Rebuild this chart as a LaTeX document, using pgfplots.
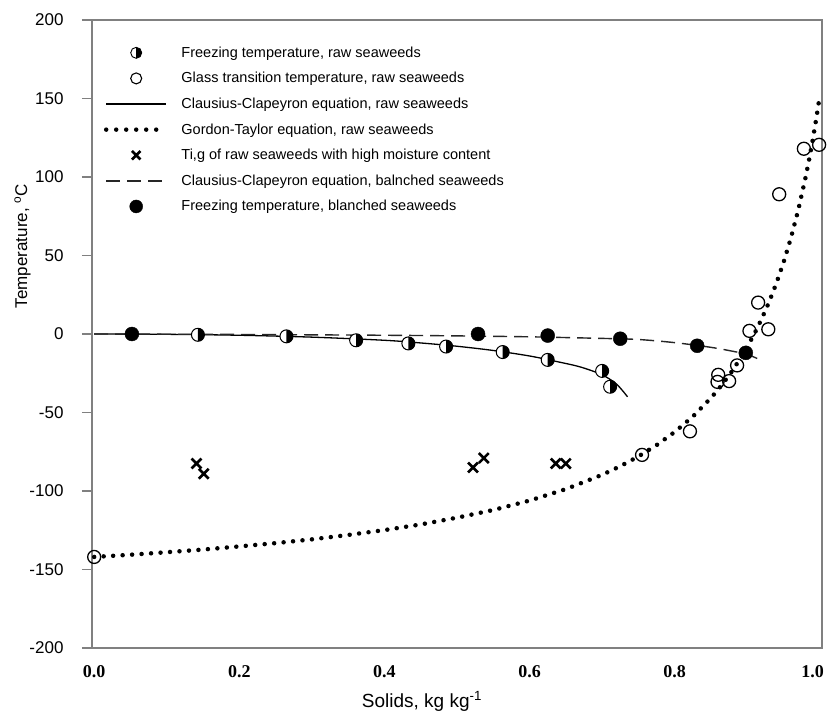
\documentclass[border=0pt]{standalone}
\usepackage{fontspec}
\setmainfont{Liberation Sans}
\newfontfamily\timesf{Liberation Serif}
\usepackage{pgfplots}
\pgfplotsset{compat=1.18}

% circle with the right half filled
\pgfdeclareplotmark{halfcirc}{%
  \pgfpathcircle{\pgfpointorigin}{\pgfplotmarksize}%
  \pgfsetfillcolor{white}\pgfusepathqfillstroke
  \pgfpathmoveto{\pgfqpoint{0pt}{\pgfplotmarksize}}%
  \pgfpatharc{90}{-90}{\pgfplotmarksize}%
  \pgfpathclose
  \pgfsetfillcolor{black}\pgfusepathqfill}

\begin{document}
\begin{tikzpicture}
\path[use as bounding box] (-92pt,-67pt) rectangle (737pt,648pt);
\begin{axis}[
    at={(0,0)}, anchor=south west,
    scale only axis, width=730pt, height=628pt,
    xmin=-0.003, xmax=1.003, ymin=-200, ymax=200,
    axis line style={black!50, line width=1.6pt},
    xtick={0,0.2,0.4,0.6,0.8,1},
    xticklabels={0.0,0.2,0.4,0.6,0.8,\hbox to 0pt{\hss 1.0\hskip-4pt}},
    ytick={-200,-150,...,200},
    ytick pos=left, xtick pos=bottom,
    tick align=outside, major tick length=10pt,
    xtick style={draw=none},
    ytick style={black!50, line width=1.2pt},
    x tick label style={font=\timesf\bfseries\fontsize{18}{20}\selectfont, yshift=-4pt},
    y tick label style={font=\fontsize{17}{20}\selectfont, xshift=-15pt},
    /pgf/number format/assume math mode=true,
    xlabel={Solids, kg kg\textsuperscript{-1}},
    ylabel={Temperature, \textsuperscript{o}C},
    xlabel style={font=\fontsize{19}{22}\selectfont, at={(axis description cs:0.452,-0.085)}, anchor=center},
    ylabel style={font=\fontsize{17}{20}\selectfont, at={(axis description cs:-0.095,0.64)}, anchor=center},
    legend style={draw=none, fill=none, at={(axis description cs:0.012,0.964)},
        anchor=north west, font=\fontsize{14.5}{17}\selectfont, row sep=9.6pt,
        /tikz/every odd column/.append style={column sep=11pt}},
    legend cell align=left,
    legend image code/.code={\draw[mark repeat=2,mark phase=2,#1]
        plot coordinates {(0pt,0pt) (30pt,0pt) (60pt,0pt)};},
]
% legend entries, in the reference's order
\addlegendimage{only marks, mark=halfcirc, mark size=5.5pt, mark options={line width=0.9pt}}
\addlegendentry{Freezing temperature, raw seaweeds}
\addlegendimage{only marks, mark=o, mark size=5.5pt, mark options={line width=1.1pt}}
\addlegendentry{Glass transition temperature, raw seaweeds}
\addlegendimage{black, line width=1.3pt}
\addlegendentry{Clausius-Clapeyron equation, raw seaweeds}
\addlegendimage{black, line width=4.5pt, line cap=round, dash pattern=on 0pt off 10pt}
\addlegendentry{Gordon-Taylor equation, raw seaweeds}
\addlegendimage{only marks, mark=x, mark size=6pt, mark options={line width=2.6pt}}
\addlegendentry{Ti,g of raw seaweeds with high moisture content}
\addlegendimage{black!85, line width=1.4pt, dash pattern=on 14pt off 7pt}
\addlegendentry{Clausius-Clapeyron equation, balnched seaweeds}
\addlegendimage{only marks, mark=*, mark size=6.5pt}
\addlegendentry{Freezing temperature, blanched seaweeds}

% Gordon-Taylor curve, raw
\addplot[forget plot, black, line width=4.5pt, line cap=round, dash pattern=on 0pt off 9.5pt]
coordinates {(0,-142) (0.05,-140.6) (0.1,-139.0) (0.15,-137.3) (0.2,-135.3) (0.25,-133.2)
 (0.3,-130.8) (0.35,-128.0) (0.4,-124.9) (0.45,-121.3) (0.5,-117.0) (0.55,-112.1)
 (0.6,-106.1) (0.65,-98.8) (0.7,-89.7) (0.725,-84.2) (0.75,-78.0) (0.775,-70.8)
 (0.8,-62.4) (0.825,-52.6) (0.85,-40.7) (0.86,-35.3) (0.875,-26.3) (0.88,-23.0)
 (0.89,-15.9) (0.9,-8.2) (0.91,0.3) (0.92,9.8) (0.93,20.3) (0.94,32.2) (0.95,45.6)
 (0.96,60.9) (0.97,78.5) (0.98,99.0) (0.985,110.5) (0.99,123.1) (0.995,136.9) (1.0,152)};

% Clausius-Clapeyron, raw
\addplot[forget plot, black, line width=1.3pt, smooth]
coordinates {(0,0) (0.1,-0.2) (0.2,-0.8) (0.3,-2) (0.4,-4) (0.45,-5.7) (0.5,-7.8)
 (0.55,-10.5) (0.6,-14) (0.64,-17.8) (0.67,-21) (0.7,-26) (0.72,-32) (0.735,-40)};

% Clausius-Clapeyron, blanched
\addplot[forget plot, black!85, line width=1.4pt, dash pattern=on 14pt off 7pt, smooth]
coordinates {(0,0) (0.2,-0.3) (0.4,-0.8) (0.5,-1.2) (0.6,-1.8) (0.7,-2.8) (0.75,-3.5)
 (0.8,-5.5) (0.85,-8.5) (0.88,-11) (0.9,-13) (0.918,-16.5)};

% freezing temperature, raw
\addplot[forget plot, only marks, mark=halfcirc, mark size=6.5pt, mark options={line width=1pt}]
coordinates {(0.143,-0.5) (0.265,-1.5) (0.361,-4) (0.433,-6) (0.485,-8) (0.563,-11.5)
 (0.625,-16.5) (0.70,-23.5) (0.711,-33.6)};

% glass transition, raw
\addplot[forget plot, only marks, mark=o, mark size=6.5pt, mark options={line width=1.3pt, fill=white}]
coordinates {(0,-142) (0.755,-77) (0.821,-62) (0.859,-30.5) (0.860,-26) (0.875,-30)
 (0.886,-20) (0.903,2) (0.915,20) (0.929,3) (0.944,89) (0.978,118) (0.999,120.5)};

% Ti,g, high moisture
\addplot[forget plot, only marks, mark=x, mark size=7pt, mark options={line width=2.6pt}]
coordinates {(0.141,-82.5) (0.151,-89) (0.522,-85) (0.537,-79) (0.636,-82.5) (0.650,-82.5)};

% freezing temperature, blanched
\addplot[forget plot, only marks, mark=*, mark size=7pt]
coordinates {(0.052,0) (0.529,0) (0.625,-1) (0.725,-3) (0.831,-7.5) (0.898,-12)};
\end{axis}
\end{tikzpicture}
\end{document}
